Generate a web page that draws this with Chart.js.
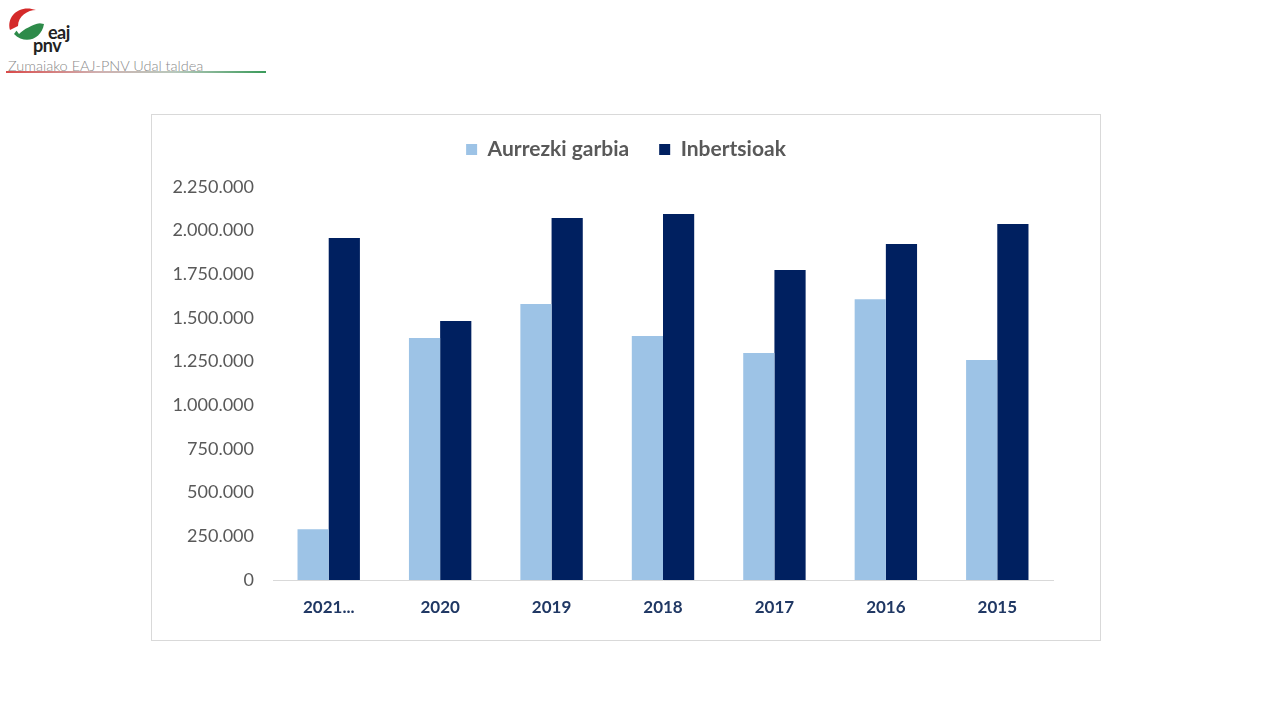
<!DOCTYPE html>
<html>
<head>
<meta charset="utf-8">
<script src="https://cdn.jsdelivr.net/npm/chart.js@4.4.1/dist/chart.umd.min.js"></script>
<style>
  body { margin: 0; background: #fff; width: 1280px; height: 720px; position: relative; overflow: hidden; font-family: Lato, sans-serif; }
  .logo { position: absolute; left: 6px; top: 4px; }
  .logo .mark { position: absolute; left: 0; top: 0; }
  .logo .eaj { position: absolute; left: 42px; top: 20px; font: bold 18px Lato, sans-serif; color: #222; line-height: 16px; letter-spacing: -0.5px; }
  .logo .pnv { position: absolute; left: 27px; top: 33px; font: bold 18px Lato, sans-serif; color: #222; line-height: 16px; letter-spacing: -0.5px; }
  .logo .sub { position: absolute; left: 2px; top: 53px; font: 300 14.5px Lato, sans-serif; color: #8a8a8a; white-space: nowrap; }
  .logo .rule { position: absolute; left: 0; top: 67px; width: 260px; height: 2px; background: linear-gradient(to right, #d94a4a, #d0b0b0 35%, #b8c8bc 65%, #3a9a5a); }
  .box { position: absolute; left: 151px; top: 114px; width: 948px; height: 525px; border: 1px solid #d9d9d9; }
  .box canvas { display: block; }
</style>
</head>
<body>
<div class="logo">
  <svg class="mark" width="44" height="44" viewBox="0 0 44 44">
    <path d="M4 26 C0 12 14 0 30 6 C22 6 12 12 12 22 Z" fill="#d42a2a"/>
    <path d="M8 30 C14 20 26 17 38 20 C36 34 20 42 8 30 Z" fill="#2e8b4a"/>
    <path d="M10 26 C16 19 28 17 34 19 C26 21 18 25 13 30 Z" fill="#fff"/>
  </svg>
  <div class="eaj">eaj</div>
  <div class="pnv">pnv</div>
  <div class="sub">Zumaiako EAJ-PNV Udal taldea</div>
  <div class="rule"></div>
</div>
<div class="box"><canvas id="chart" width="948" height="525"></canvas></div>
<script>
var categories = ['2021...', '2020', '2019', '2018', '2017', '2016', '2015'];
var aurrezkiGarbia = [290000, 1385000, 1580000, 1397000, 1299000, 1608000, 1259000];
var inbertsioak = [1958000, 1483000, 2072000, 2095000, 1775000, 1923000, 2038000];
var yMax = 2250000;
var yStep = 250000;

function fmt(v) {
    return String(v).replace(/\B(?=(\d{3})+(?!\d))/g, '.');
}

new Chart(document.getElementById('chart'), {
    type: 'bar',
    data: {
        labels: categories,
        datasets: [{
            label: 'Aurrezki garbia',
            data: aurrezkiGarbia,
            backgroundColor: '#9dc3e6',
            categoryPercentage: 0.56,
            barPercentage: 1
        }, {
            label: 'Inbertsioak',
            data: inbertsioak,
            backgroundColor: '#002060',
            categoryPercentage: 0.56,
            barPercentage: 1
        }]
    },
    options: {
        responsive: false,
        animation: false,
        layout: { padding: { top: -6, right: 0, left: 0, bottom: 0 } },
        plugins: {
            legend: {
                position: 'top',
                labels: {
                    boxWidth: 11,
                    boxHeight: 11,
                    padding: 30,
                    color: '#595959',
                    font: { family: 'Lato', size: 21, weight: 'bold' }
                }
            },
            // empty spacer on the right, beside the plot only, so the legend stays centred on the box
            title: {
                display: true,
                text: '',
                position: 'right',
                fullSize: false,
                font: { size: 1, lineHeight: 1 },
                padding: { top: 46, bottom: 0 }
            },
            // empty spacer between legend and plot
            subtitle: {
                display: true,
                text: '',
                weight: 500,
                font: { size: 1, lineHeight: 1 },
                padding: { top: 0, bottom: 16 }
            },
            tooltip: { enabled: false }
        },
        scales: {
            x: {
                grid: { display: false },
                border: { color: '#d9d9d9', width: 1 },
                ticks: {
                    color: '#203864',
                    padding: 9,
                    font: { family: 'Lato', size: 17, weight: 'bold' }
                },
                afterFit: function (scale) { scale.height = 60; }
            },
            y: {
                min: 0,
                max: yMax,
                grid: { display: false },
                border: { display: false },
                ticks: {
                    stepSize: yStep,
                    color: '#595959',
                    padding: 11,
                    font: { family: 'Lato', size: 18 },
                    callback: function (v) { return fmt(v); }
                },
                afterFit: function (scale) { scale.width = 121; }
            }
        }
    }
});
</script>
</body>
</html>
